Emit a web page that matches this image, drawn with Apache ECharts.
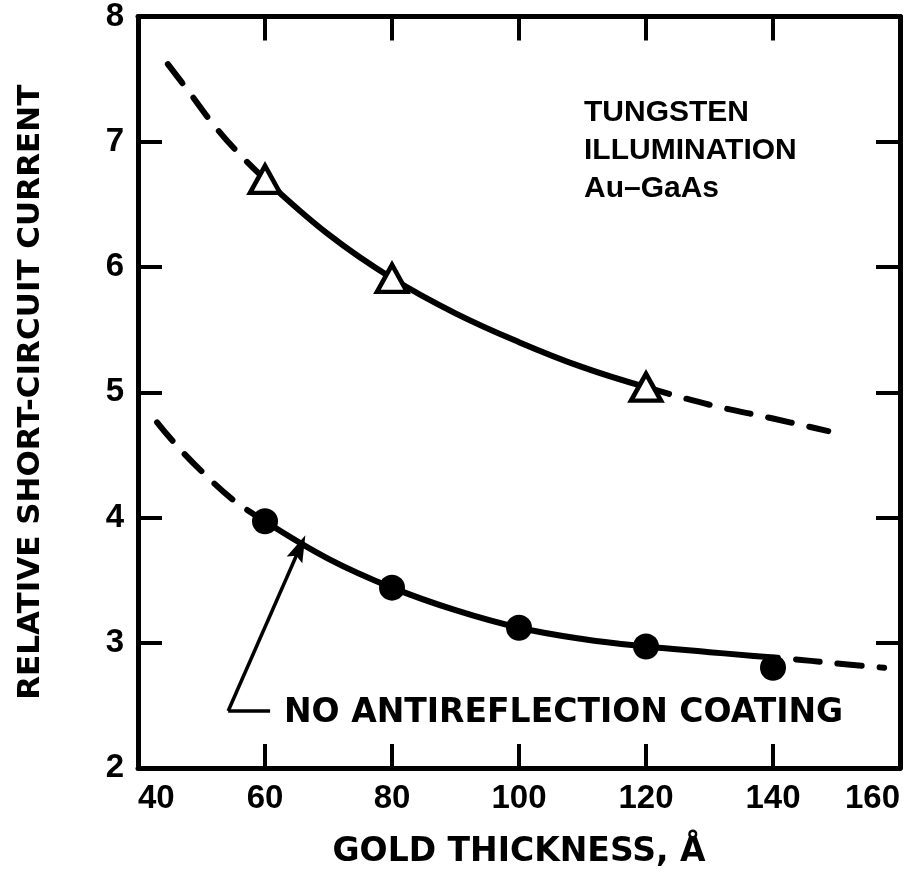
<!DOCTYPE html>
<html><head><meta charset="utf-8">
<script src="https://cdn.jsdelivr.net/npm/echarts@6/dist/echarts.min.js"></script>
<style>html,body{margin:0;padding:0;background:#fff}#c{width:907px;height:876px}</style>
</head><body><div id="c"></div>
<script>
// ---- data ----
const xTicks = [40, 60, 80, 100, 120, 140, 160];
const yTicks = [2, 3, 4, 5, 6, 7, 8];
const xTitle = 'GOLD THICKNESS, Å';
const yTitle = 'RELATIVE SHORT-CIRCUIT CURRENT';

const triangleX = [60, 80, 120];
const triangleY = [6.70, 5.91, 5.04];
const circleX = [60, 80, 100, 120, 140];
const circleY = [3.97, 3.44, 3.12, 2.97, 2.80];

const upperDashLeftX = [44.7, 48, 52, 56, 60];
const upperDashLeftY = [7.62, 7.40, 7.13, 6.90, 6.70];
const upperSolidX = [60, 70, 80, 90, 100, 110, 120];
const upperSolidY = [6.70, 6.26, 5.91, 5.63, 5.40, 5.20, 5.04];
const upperDashRightX = [120, 130, 140, 148.7];
const upperDashRightY = [5.04, 4.90, 4.79, 4.69];

const lowerDashLeftX = [43, 46, 50, 55, 60];
const lowerDashLeftY = [4.76, 4.58, 4.37, 4.14, 3.97];
const lowerSolidX = [60, 70, 80, 90, 100, 110, 120, 130, 137];
const lowerSolidY = [3.97, 3.67, 3.44, 3.26, 3.12, 3.03, 2.97, 2.925, 2.895];
const lowerDashRightX = [137, 143, 149, 157.5];
const lowerDashRightY = [2.895, 2.87, 2.84, 2.80];

const bracketX = [60.8, 54.2];
const bracketY = [2.455, 2.455];
const arrowX = [54.2, 65.5];
const arrowY = [2.455, 3.76];

const noteLines = ['TUNGSTEN', 'ILLUMINATION', 'Au–GaAs'];
const curveLabel = 'NO ANTIREFLECTION COATING';

// ---- helpers ----
const zip = (xs, ys) => xs.map((x, i) => [x, ys[i]]);
const BLACK = '#000';

function lineSeries(xs, ys, dashed, width) {
  return {
    type: 'line', data: zip(xs, ys), smooth: 0.4, showSymbol: false, symbol: 'none',
    lineStyle: { color: BLACK, width: width, type: dashed ? [24, 18] : 'solid', cap: 'round', join: 'round', opacity: 1 },
    z: 2, silent: true
  };
}

const axisLine = { show: true, onZero: false, lineStyle: { color: BLACK, width: 5 } };
const axisTick = { show: true, inside: true, length: 24, lineStyle: { color: BLACK, width: 4 } };
const labelFont = { color: BLACK, fontSize: 33, fontWeight: 'bold', fontFamily: 'Liberation Sans, Arial, sans-serif' };

const chart = echarts.init(document.getElementById('c'), null, { renderer: 'canvas' });
chart.setOption({
  backgroundColor: '#fff',
  animation: false,
  grid: { left: 138, right: 7, top: 15, bottom: 108, containLabel: false },
  xAxis: [
    {
      type: 'value', min: xTicks[0], max: xTicks[xTicks.length - 1], interval: xTicks[1] - xTicks[0],
      position: 'bottom', axisLine, axisTick, splitLine: { show: false },
      axisLabel: Object.assign({ margin: 14, alignMinLabel: 'left', alignMaxLabel: 'right' }, labelFont),
      name: xTitle, nameLocation: 'middle', nameGap: 68,
      nameTextStyle: { color: BLACK, fontSize: 33, fontWeight: 'bold', fontFamily: 'DejaVu Sans, sans-serif' }
    },
    {
      type: 'value', min: xTicks[0], max: xTicks[xTicks.length - 1], interval: xTicks[1] - xTicks[0],
      position: 'top', axisLine, axisTick, splitLine: { show: false }, axisLabel: { show: false }
    }
  ],
  yAxis: [
    {
      type: 'value', min: yTicks[0], max: yTicks[yTicks.length - 1], interval: 1,
      position: 'left', axisLine, axisTick, splitLine: { show: false },
      axisLabel: Object.assign({ margin: 14 }, labelFont),
      name: yTitle, nameLocation: 'middle', nameGap: 92, nameRotate: 90,
      nameTextStyle: { color: BLACK, fontSize: 31, fontWeight: 'bold', fontFamily: 'DejaVu Sans, sans-serif' }
    },
    {
      type: 'value', min: yTicks[0], max: yTicks[yTicks.length - 1], interval: 1,
      position: 'right', axisLine, axisTick, splitLine: { show: false }, axisLabel: { show: false }
    }
  ],
  series: [
    lineSeries(upperDashLeftX, upperDashLeftY, true, 6),
    lineSeries(upperSolidX, upperSolidY, false, 6),
    lineSeries(upperDashRightX, upperDashRightY, true, 6),
    lineSeries(lowerDashLeftX, lowerDashLeftY, true, 6),
    lineSeries(lowerSolidX, lowerSolidY, false, 6),
    lineSeries(lowerDashRightX, lowerDashRightY, true, 6),
    {
      type: 'line', data: zip(bracketX, bracketY), showSymbol: false, symbol: 'none',
      lineStyle: { color: BLACK, width: 3.5 }, z: 2, silent: true,
      markLine: {
        silent: true, symbol: ['none', 'path://M0,0 L8,24 L0,20 L-8,24 Z'], symbolSize: [17, 27],
        symbolOffset: [0, 0], label: { show: false }, emphasis: { disabled: true },
        lineStyle: { color: BLACK, width: 3.5, type: 'solid', opacity: 1 },
        itemStyle: { color: BLACK },
        data: [[{ coord: [arrowX[0], arrowY[0]] }, { coord: [arrowX[1], arrowY[1]] }]]
      }
    },
    {
      type: 'scatter', data: zip(triangleX, triangleY), symbol: 'triangle', symbolSize: [30, 27],
      itemStyle: { color: '#fff', borderColor: BLACK, borderWidth: 4.5, opacity: 1 }, z: 5, silent: true
    },
    {
      type: 'scatter', data: zip(circleX, circleY), symbol: 'circle', symbolSize: 26,
      itemStyle: { color: BLACK, opacity: 1 }, z: 5, silent: true
    }
  ],
  graphic: [
    {
      type: 'text', left: 584, top: 94, silent: true,
      style: {
        text: noteLines.join('\n'), fill: BLACK, font: 'bold 30px Liberation Sans, Arial, sans-serif',
        lineHeight: 38
      }
    },
    {
      type: 'text', left: 284, top: 697, silent: true,
      style: { text: curveLabel, fill: BLACK, font: 'bold 33px DejaVu Sans, sans-serif' }
    }
  ]
});
</script>
</body></html>
